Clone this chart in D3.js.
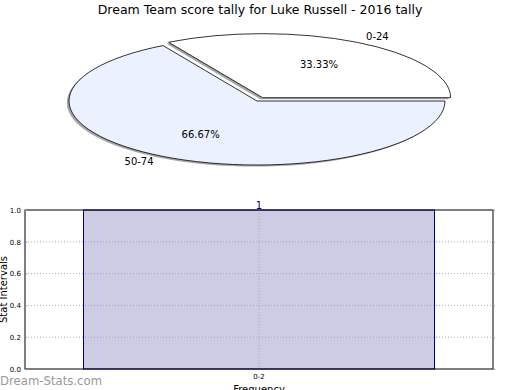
<!DOCTYPE html>
<html lang="en">
<head>
  <meta charset="UTF-8">
  <title>Dream Team score tally</title>
  <script src="https://d3js.org/d3.v7.min.js"></script>
  <style>
    body { margin: 0; background: #fff; }
    text { font-family: "DejaVu Sans", sans-serif; }
  </style>
</head>
<body>
  <svg id="chart" width="520" height="390"></svg>

  <script>
    // Pie data
    const pieLabels = ["0-24", "50-74"];
    const pieValues = [1, 2];
    const pieColors = ["#ffffff", "#ebf1ff"];
    const pieExplode = [0.06, 0];

    // Bar data
    const barCategories = ["0-2"];
    const barValues = [1];
    const yTicks = [0, 0.2, 0.4, 0.6, 0.8, 1.0];

    const svg = d3.select("#chart");

    // Title
    svg.append("text")
      .attr("x", 260)
      .attr("y", 14)
      .attr("text-anchor", "middle")
      .style("font-size", "12.5px")
      .text("Dream Team score tally for Luke Russell - 2016 tally");

    // ---- Pie (squashed ellipse) ----
    const cx = 257, cy = 101, rx = 188, ry = 64;
    const squash = ry / rx;

    // matplotlib style: start at 3 o'clock, go counterclockwise
    const pie = d3.pie()
      .sort(null)
      .startAngle(Math.PI / 2)
      .endAngle(Math.PI / 2 - 2 * Math.PI);
    const arcs = pie(pieValues);
    const arc = d3.arc().innerRadius(0).outerRadius(rx);

    const pieG = svg.append("g");

    function offsetOf(d, i) {
      const mid = (d.startAngle + d.endAngle) / 2;
      const e = pieExplode[i] * rx;
      return [Math.sin(mid) * e, -Math.cos(mid) * e * squash];
    }

    // shadows
    arcs.forEach((d, i) => {
      const [ox, oy] = offsetOf(d, i);
      pieG.append("path")
        .attr("d", arc(d))
        .attr("transform", `translate(${cx + ox - 2.2},${cy + oy + 1.6}) scale(1,${squash})`)
        .attr("fill", "#808080")
        .attr("fill-opacity", 0.7);
    });

    // slices
    arcs.forEach((d, i) => {
      const [ox, oy] = offsetOf(d, i);
      pieG.append("path")
        .attr("d", arc(d))
        .attr("transform", `translate(${cx + ox},${cy + oy}) scale(1,${squash})`)
        .attr("fill", pieColors[i])
        .attr("stroke", "#000")
        .attr("stroke-width", 0.8)
        .attr("vector-effect", "non-scaling-stroke");
    });

    // labels
    arcs.forEach((d, i) => {
      const [ox, oy] = offsetOf(d, i);
      const mid = (d.startAngle + d.endAngle) / 2;
      const sx = Math.sin(mid), sy = -Math.cos(mid);
      const pct = d.value / d3.sum(pieValues) * 100;

      pieG.append("text")
        .attr("x", cx + ox + sx * rx * 0.6)
        .attr("y", cy + oy + sy * ry * 0.6)
        .attr("text-anchor", "middle")
        .attr("dominant-baseline", "central")
        .style("font-size", "10px")
        .text(pct.toFixed(2) + "%");

      pieG.append("text")
        .attr("x", cx + ox + sx * rx * 1.1)
        .attr("y", cy + oy + sy * ry * 1.1)
        .attr("text-anchor", sx >= 0 ? "start" : "end")
        .attr("dominant-baseline", "central")
        .style("font-size", "10px")
        .text(pieLabels[i]);
    });

    // ---- Bar chart ----
    const plotLeft = 25, plotRight = 493, plotTop = 210, plotBottom = 369;

    const x = d3.scaleBand()
      .domain(barCategories)
      .range([plotLeft, plotRight])
      .paddingInner(0)
      .paddingOuter(1 / 6);

    const y = d3.scaleLinear()
      .domain([0, 1])
      .range([plotBottom, plotTop]);

    const barG = svg.append("g");

    barG.selectAll(".bar")
      .data(barValues)
      .enter()
      .append("rect")
      .attr("class", "bar")
      .attr("x", (d, i) => x(barCategories[i]))
      .attr("y", d => y(d))
      .attr("width", x.bandwidth())
      .attr("height", d => y(0) - y(d))
      .attr("fill", "#ccccE5")
      .attr("stroke", "#000080")
      .attr("stroke-width", 1);

    // grid lines
    barG.selectAll(".hgrid")
      .data(yTicks.slice(1, -1))
      .enter()
      .append("line")
      .attr("x1", plotLeft)
      .attr("x2", plotRight)
      .attr("y1", d => y(d))
      .attr("y2", d => y(d))
      .attr("stroke", "#aaa")
      .attr("stroke-width", 1)
      .attr("stroke-dasharray", "1,2");

    barG.selectAll(".vgrid")
      .data(barCategories)
      .enter()
      .append("line")
      .attr("x1", d => x(d) + x.bandwidth() / 2)
      .attr("x2", d => x(d) + x.bandwidth() / 2)
      .attr("y1", plotTop)
      .attr("y2", plotBottom)
      .attr("stroke", "#aaa")
      .attr("stroke-width", 1)
      .attr("stroke-dasharray", "1,2");

    // axes frame
    barG.append("rect")
      .attr("x", plotLeft)
      .attr("y", plotTop)
      .attr("width", plotRight - plotLeft)
      .attr("height", plotBottom - plotTop)
      .attr("fill", "none")
      .attr("stroke", "#000")
      .attr("stroke-width", 1);

    // y axis
    const yAxis = d3.axisLeft(y)
      .tickValues(yTicks)
      .tickSize(-2)
      .tickPadding(4)
      .tickFormat(d3.format(".1f"));
    const yG = svg.append("g")
      .attr("transform", `translate(${plotLeft},0)`)
      .call(yAxis);
    yG.select(".domain").remove();
    yG.selectAll(".tick line").attr("stroke", "#999");
    yG.selectAll(".tick text")
      .attr("font-family", "DejaVu Sans")
      .style("font-size", "7px");

    // right side ticks
    const yR = d3.axisRight(y).tickValues(yTicks).tickSize(2).tickFormat("");
    const yRG = svg.append("g")
      .attr("transform", `translate(${plotRight},0)`)
      .call(yR);
    yRG.select(".domain").remove();
    yRG.selectAll(".tick line").attr("stroke", "#999");

    // x axis
    const xAxis = d3.axisBottom(x).tickSize(0).tickPadding(5);
    const xG = svg.append("g")
      .attr("transform", `translate(0,${plotBottom})`)
      .call(xAxis);
    xG.select(".domain").remove();
    xG.selectAll(".tick text")
      .attr("font-family", "DejaVu Sans")
      .style("font-size", "7px");

    // value label
    barG.selectAll(".val")
      .data(barValues)
      .enter()
      .append("text")
      .attr("x", (d, i) => x(barCategories[i]) + x.bandwidth() / 2)
      .attr("y", d => y(d) - 1)
      .attr("text-anchor", "middle")
      .attr("fill", "#000080")
      .style("font-size", "10px")
      .text(d => d);

    // axis titles (partly clipped by the edge, as in the original)
    svg.append("text")
      .attr("x", (plotLeft + plotRight) / 2)
      .attr("y", 393)
      .attr("text-anchor", "middle")
      .style("font-size", "10px")
      .text("Frequency");

    svg.append("text")
      .attr("transform", "rotate(-90)")
      .attr("x", -(plotTop + plotBottom) / 2)
      .attr("y", 7)
      .attr("text-anchor", "middle")
      .style("font-size", "10px")
      .text("Stat Intervals");

    // watermark
    svg.append("text")
      .attr("x", 0)
      .attr("y", 385)
      .attr("fill", "#999")
      .style("font-size", "11.7px")
      .text("Dream-Stats.com");
  </script>
</body>
</html>
